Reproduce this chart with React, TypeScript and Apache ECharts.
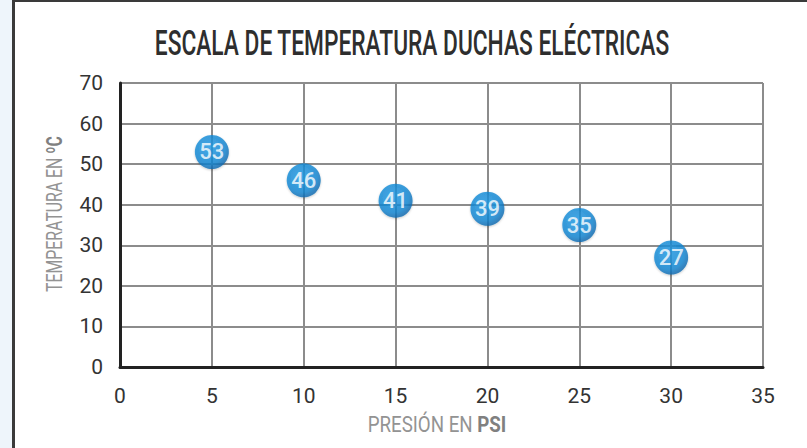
import React, { useEffect, useRef } from "react";
import * as echarts from "echarts";

const titleText = "ESCALA DE TEMPERATURA DUCHAS ELÉCTRICAS";
const xAxisName = ["PRESIÓN EN ", "PSI"];
const yAxisName = ["TEMPERATURA EN ", "ºC"];
const pressurePsi = [5, 10, 15, 20, 25, 30];
const temperatureC = [53, 46, 41, 39, 35, 27];
const xTicks = { min: 0, max: 35, interval: 5 };
const yTicks = { min: 0, max: 70, interval: 10 };

const FONT = "Roboto, 'Liberation Sans', sans-serif";

export default function App() {
  const ref = useRef<HTMLDivElement>(null);
  useEffect(() => {
    if (!ref.current) return;
    const chart = echarts.init(ref.current, undefined, { renderer: "svg" });
    const data = pressurePsi.map((x, i) => [x, temperatureC[i]]);
    const nameRich = {
      n: { fontFamily: FONT, fontSize: 22, fill: "#939393" },
      b: { fontFamily: FONT, fontSize: 22, fill: "#808080", fontWeight: "bold" },
    };
    chart.setOption({
      animation: false,
      backgroundColor: "#ffffff",
      graphic: [
        { type: "rect", shape: { x: 0, y: 0, width: 13, height: 448 }, style: { fill: "#eef5fb" }, z: -1 },
        { type: "rect", shape: { x: 12, y: 0, width: 3, height: 448 }, style: { fill: "#3a3a3a" } },
        { type: "rect", shape: { x: 12, y: 0, width: 795, height: 2 }, style: { fill: "#3a3a3a" } },
        {
          type: "text",
          x: 412,
          y: 43,
          scaleX: 0.65,
          style: {
            text: titleText,
            fontFamily: FONT,
            fontSize: 35,
            fontWeight: 500,
            fill: "#2e2e2e",
            align: "center",
            verticalAlign: "middle",
          },
        },
        {
          type: "text",
          x: 437,
          y: 424,
          scaleX: 0.85,
          style: {
            text: `{n|${xAxisName[0]}}{b|${xAxisName[1]}}`,
            rich: nameRich,
            align: "center",
            verticalAlign: "middle",
          },
        },
        {
          type: "text",
          x: 55,
          y: 214,
          rotation: Math.PI / 2,
          scaleX: 0.72,
          style: {
            text: `{n|${yAxisName[0]}}{b|${yAxisName[1]}}`,
            rich: nameRich,
            align: "center",
            verticalAlign: "middle",
          },
        },
      ],
      grid: { left: 120, right: 44, top: 83, bottom: 81 },
      xAxis: {
        type: "value",
        min: xTicks.min,
        max: xTicks.max,
        interval: xTicks.interval,
        axisLine: { show: true, onZero: false, lineStyle: { color: "#222", width: 3 } },
        axisTick: { show: false },
        axisLabel: { margin: 18, fontFamily: FONT, fontSize: 21, color: "#333" },
        splitLine: { show: true, lineStyle: { color: "#8c8c8c", width: 2 } },
      },
      yAxis: {
        type: "value",
        min: yTicks.min,
        max: yTicks.max,
        interval: yTicks.interval,
        axisLine: { show: true, onZero: false, lineStyle: { color: "#222", width: 3 } },
        axisTick: { show: false },
        axisLabel: { margin: 17, fontFamily: FONT, fontSize: 21, color: "#333" },
        splitLine: { show: true, lineStyle: { color: "#8c8c8c", width: 2 } },
      },
      series: [
        {
          type: "scatter",
          data,
          symbolSize: 34,
          itemStyle: {
            color: new echarts.graphic.RadialGradient(0.42, 0.38, 0.62, [
              { offset: 0, color: "#1f9be6" },
              { offset: 0.75, color: "#0f85d2" },
              { offset: 1, color: "#0a69b0" },
            ]),
            shadowBlur: 2,
            shadowColor: "rgba(0,0,0,0.25)",
            shadowOffsetY: 1,
          },
          label: {
            show: true,
            position: "inside",
            formatter: (p: any) => String(p.value[1]),
            fontFamily: FONT,
            fontSize: 22,
            fontWeight: 500,
            color: "#ffffff",
          },
        },
      ],
    });
    return () => chart.dispose();
  }, []);
  return <div ref={ref} style={{ width: 807, height: 448, position: "absolute", left: 0, top: 0 }} />;
}
